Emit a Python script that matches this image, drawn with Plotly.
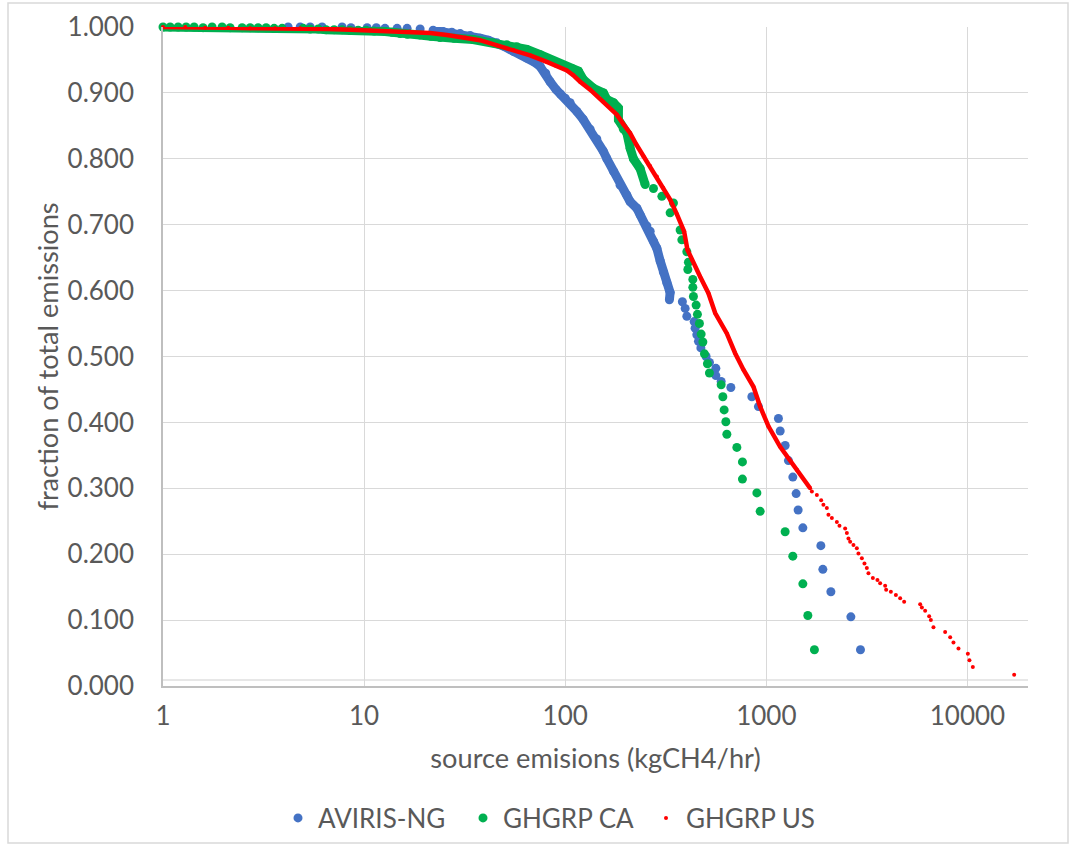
import plotly.graph_objects as go

# ---------------- data ----------------
aviris_x = [4.19, 4.81, 5.39, 6.18, 7.77, 8.6, 10.35, 11.5, 12.7, 14.59, 16.36, 18.99,
            22.03, 24.71, 27.3, 30.02, 33.7, 37.74, 41.5, 45.7, 50.2, 55.26, 60.0, 64.43,
            70.0, 75.04, 80.0, 84.1, 90.1, 95.0, 100.0, 105.8, 114.2, 122.7, 133.0, 143.6,
            154.3, 161.1, 173.7, 187.5, 202.5, 210.3, 227.1, 235.8, 254.6, 264.4, 274.6,
            285.5, 296.5, 307.9, 320.1, 332.3, 329.6,
            382.4, 394.7, 402.4, 437.5, 442.4, 451.2, 459.7, 472.5, 501.8, 521.3, 560.9,
            561.0, 596.0, 666.1, 847.2, 913.5, 1148.5, 1171.6, 1240.4, 1287.9, 1354.4,
            1406.5, 1439.0, 1519.0, 1866.5, 1909.9, 2093.9, 2632.0, 2938.0]
aviris_y = [1.000, 1.000, 1.000, 1.000, 1.000, 0.999, 0.999, 0.999, 0.998, 0.998, 0.998, 0.997,
            0.995, 0.993, 0.992, 0.990, 0.987, 0.983, 0.980, 0.976, 0.970, 0.963, 0.958, 0.953,
            0.947, 0.940, 0.930, 0.917, 0.905, 0.898, 0.892, 0.885, 0.872, 0.860, 0.845, 0.830,
            0.812, 0.800, 0.781, 0.760, 0.745, 0.735, 0.725, 0.715, 0.698, 0.690, 0.675,
            0.664, 0.645, 0.628, 0.612, 0.597, 0.586,
            0.583, 0.573, 0.561, 0.553, 0.543, 0.533, 0.523, 0.513, 0.500, 0.491, 0.482,
            0.471, 0.462, 0.453, 0.439, 0.424, 0.406, 0.387, 0.365, 0.342, 0.317,
            0.292, 0.267, 0.240, 0.213, 0.177, 0.143, 0.105, 0.055]

ca_x = [1.0, 1.085, 1.189, 1.303, 1.428, 1.582, 1.754, 1.967, 2.157, 2.474, 2.712, 2.972,
        3.257, 3.569, 3.912, 4.975, 5.39, 5.907, 6.474, 7.093, 7.774, 8.519, 9.337, 10.23,
        11.21, 12.72, 13.78, 15.1, 16.4, 18.9, 21.5, 23.87, 28.0, 34.83, 43.8, 51.23, 57.44,
        64.43, 75.04, 87.37, 99.9, 108.0, 116.3, 123.1, 138.1, 154.9, 161.1, 173.7, 180.6,
        183.9, 183.9, 194.7, 202.5, 210.3, 218.4, 235.8, 249.7,
        274.6, 302.3, 345.1, 332.3, 372.7, 380.0, 402.4, 409.8, 407.0, 431.0, 431.0, 434.0,
        447.6, 454.3, 464.9, 474.1, 483.4, 492.4, 509.5, 521.3, 596.0, 607.8, 616.9, 629.0,
        636.3, 713.5, 760.6, 760.6, 897.2, 931.6, 1240.0, 1354.0, 1519.0, 1608.0, 1734.0]
ca_y = [1.000, 1.000, 1.000, 1.000, 1.000, 0.999, 1.000, 1.000, 0.999, 0.999, 0.999, 0.999,
        0.999, 0.998, 0.998, 0.998, 0.997, 0.997, 0.996, 0.996, 0.996, 0.995, 0.995, 0.995,
        0.994, 0.993, 0.992, 0.990, 0.989, 0.988, 0.986, 0.984, 0.983, 0.981, 0.976, 0.973, 0.970,
        0.966, 0.958, 0.948, 0.940, 0.937, 0.933, 0.920, 0.907, 0.900, 0.890, 0.885, 0.879,
        0.877, 0.859, 0.845, 0.839, 0.816, 0.800, 0.785, 0.761,
        0.755, 0.743, 0.733, 0.718, 0.692, 0.677, 0.659, 0.643, 0.632, 0.617, 0.605, 0.591,
        0.578, 0.564, 0.550, 0.534, 0.522, 0.504, 0.489, 0.475, 0.457, 0.439, 0.419, 0.401,
        0.382, 0.362, 0.340, 0.314, 0.293, 0.265, 0.234, 0.197, 0.155, 0.107, 0.055]

us_x = [1.0, 1.29, 1.62, 2.11, 2.71, 3.61, 4.81, 6.55, 8.52, 10.7, 13.5, 16.9, 21.3, 25.8,
        31.8, 37.7, 45.8, 55.3, 66.9, 81.0, 90.1, 101.9, 109.5, 118.6, 133.0, 154.3, 180.6,
        194.1, 210.3, 225.3, 244.9, 264.4, 285.5, 306.8, 332.3, 358.9, 390.0, 405.2, 426.1,
        468.8, 515.3, 556.6, 636.1, 699.5, 769.3, 862.9, 931.6, 1024.5, 1171.6, 1418.0, 1651.0,
        1684.0, 1783.0, 1873.0, 1922.0, 1999.0, 2036.0, 2117.0, 2242.0, 2310.0, 2465.0,
        2514.0, 2560.0, 2610.0, 2711.0, 2818.0, 2871.0, 2985.0, 3075.0, 3160.0, 3219.0,
        3385.0, 3568.0, 3680.0, 3897.0, 3942.0, 4160.0, 4406.0, 4628.0, 4844.0, 5819.0,
        5933.0, 6160.0, 6450.0, 6577.0, 6775.0, 7746.0, 8204.0, 8519.0, 9022.0, 10046.0,
        10230.0, 10636.0, 17070.0]
us_y = [1.000, 1.000, 0.999, 0.999, 0.998, 0.998, 0.998, 0.997, 0.996, 0.995, 0.994, 0.993,
        0.991, 0.988, 0.984, 0.980, 0.972, 0.965, 0.957, 0.947, 0.941, 0.934, 0.927, 0.917,
        0.905, 0.887, 0.867, 0.853, 0.839, 0.822, 0.804, 0.789, 0.773, 0.756, 0.738, 0.716,
        0.690, 0.662, 0.647, 0.621, 0.596, 0.566, 0.535, 0.505, 0.480, 0.454, 0.424, 0.394,
        0.363, 0.328, 0.300,
        0.295, 0.290, 0.282, 0.275, 0.270, 0.260, 0.255, 0.249, 0.243, 0.239,
        0.232, 0.224, 0.219, 0.214, 0.209, 0.201, 0.194, 0.186, 0.179, 0.171,
        0.164, 0.161, 0.156, 0.152, 0.146, 0.143, 0.138, 0.133, 0.128, 0.124,
        0.119, 0.114, 0.106, 0.100, 0.089, 0.082, 0.074, 0.066, 0.057, 0.049,
        0.039, 0.029, 0.017]

series_names = ["AVIRIS-NG", "GHGRP CA", "GHGRP US"]
x_tick_vals = [1, 10, 100, 1000, 10000]
x_tick_text = ["1", "10", "100", "1000", "10000"]
y_tick_vals = [0.0, 0.1, 0.2, 0.3, 0.4, 0.5, 0.6, 0.7, 0.8, 0.9, 1.0]
x_title = "source emisions (kgCH4/hr)"
y_title = "fraction of total emissions"

# ---------------- style ----------------
BLUE, GREEN, RED = "#4472C4", "#00B050", "#FF0000"
TXT = "#595959"
FONT = "Lato"
W, H = 1072, 846
L, R, T, B = 163, 44, 27, 160
PW, PH = W - L - R, H - T - B


def dense(xs, ys, lo, hi):
    """points of the part of a series where the markers overlap into a band"""
    pts = [(x, y) for x, y in zip(xs, ys) if lo <= x <= hi]
    return [p[0] for p in pts], [p[1] for p in pts]


def px_x(px):
    return (px - L) / PW


def px_y(py):
    return (H - B - py) / PH


fig = go.Figure()

specs = [
    (aviris_x, aviris_y, BLUE, 9, 9, (20, 335), "legend"),
    (ca_x, ca_y, GREEN, 9, 9, (1, 250), "legend2"),
    (us_x, us_y, RED, 4, 4.5, (1, 1651), "legend3"),
]
for (xs, ys, col, msize, lw, (lo, hi), lg), name in zip(specs, series_names):
    dx, dy = dense(xs, ys, lo, hi)
    fig.add_trace(go.Scatter(x=dx, y=dy, mode="lines", showlegend=False,
                             hoverinfo="skip", line=dict(color=col, width=lw),
                             cliponaxis=False))
    fig.add_trace(go.Scatter(x=xs, y=ys, mode="markers", name=name, legend=lg,
                             marker=dict(color=col, size=msize, line=dict(width=0)),
                             cliponaxis=False))

# chart-area border and the second horizontal rule just above the axis
fig.add_shape(type="rect", xref="paper", yref="paper",
              x0=px_x(8), x1=px_x(1068), y0=px_y(843), y1=px_y(3),
              line=dict(color="#d9d9d9", width=1.5), layer="below")
fig.add_shape(type="line", xref="paper", yref="y", x0=0, x1=1, y0=0.0091, y1=0.0091,
              line=dict(color="#d0d0d0", width=1.2), layer="below")

leg_common = dict(y=px_y(818), yanchor="middle", xanchor="left",
                  font=dict(family=FONT, size=26, color=TXT), itemsizing="trace",
                  bgcolor="rgba(0,0,0,0)", borderwidth=0)

fig.update_layout(
    width=W, height=H,
    margin=dict(l=L, r=R, t=T, b=B, autoexpand=False),
    paper_bgcolor="white", plot_bgcolor="white",
    font=dict(family=FONT, size=26, color=TXT),
    showlegend=True,
    legend=dict(x=px_x(278), **leg_common),
    legend2=dict(x=px_x(463), **leg_common),
    legend3=dict(x=px_x(646), **leg_common),
    hovermode=False,
)
fig.update_xaxes(type="log", range=[0, 4.30103], tickvals=x_tick_vals, ticktext=x_tick_text,
                 automargin=False,
                 showgrid=True, gridcolor="#d9d9d9", gridwidth=1.2,
                 showline=True, linecolor="#bfbfbf", linewidth=1.5, zeroline=False,
                 ticks="", ticklabelstandoff=6,
                 tickfont=dict(family=FONT, size=26, color=TXT),
                 title=dict(text=x_title, font=dict(family=FONT, size=27.2, color=TXT),
                            standoff=19))
fig.update_yaxes(range=[0, 1.0], tickvals=y_tick_vals, tickformat=".3f",
                 automargin=False,
                 showgrid=True, gridcolor="#d9d9d9", gridwidth=1.2,
                 showline=True, linecolor="#bfbfbf", linewidth=1.5, zeroline=False,
                 ticks="", ticklabelstandoff=22,
                 tickfont=dict(family=FONT, size=26, color=TXT),
                 title=dict(text=y_title, font=dict(family=FONT, size=27.2, color=TXT),
                            standoff=1))

fig.write_html("out.html",
               config={"displayModeBar": False},
               post_script="document.body.style.margin='0';"
                           "document.body.style.overflow='hidden';")
